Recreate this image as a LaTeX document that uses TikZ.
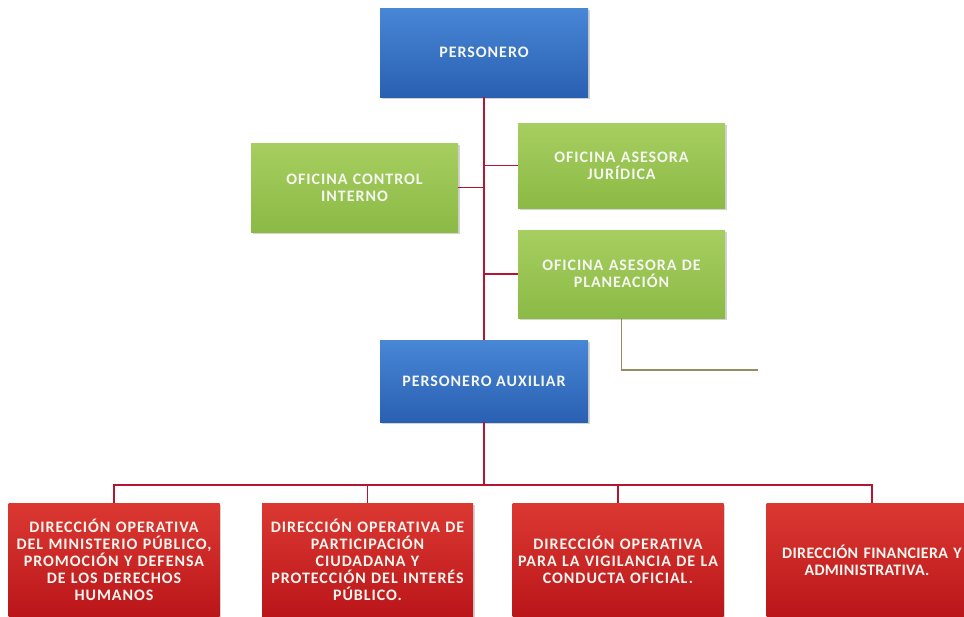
\documentclass[tikz,border=0pt]{standalone}
\usepackage{fontspec}
\setsansfont{Carlito}
\newfontfamily\cajafont[LetterSpace=6]{Carlito}
\newfontfamily\cajafontb[LetterSpace=2]{Carlito}
\usepackage{tikz}
\usetikzlibrary{positioning,shadows,calc}
\definecolor{azultop}{RGB}{72,134,214}
\definecolor{azulbot}{RGB}{42,96,178}
\definecolor{verdetop}{RGB}{166,206,96}
\definecolor{verdebot}{RGB}{140,186,70}
\definecolor{rojotop}{RGB}{220,56,50}
\definecolor{rojobot}{RGB}{186,22,26}
\definecolor{linea}{RGB}{180,22,50}
\definecolor{oliva}{RGB}{150,140,96}
\definecolor{letra}{RGB}{246,246,240}
\tikzset{
  caja/.style = {rectangle, align=center, inner sep=2pt, text=letra,
    font=\cajafont\bfseries\fontsize{16}{17}\selectfont,
    drop shadow={opacity=0.35, shadow xshift=1.5pt, shadow yshift=-1.5pt}},
  caja_a/.style = {caja, top color=azultop, bottom color=azulbot,
    minimum width=208pt},% azul
  caja_v/.style = {caja, top color=verdetop, bottom color=verdebot,
    minimum width=207pt, text width=200pt},% verde
  caja_r/.style = {caja, top color=rojotop, bottom color=rojobot,
    minimum width=209pt, minimum height=114pt, text width=207pt},% rojo
  enlace/.style = {draw=linea, line width=1.5pt}
}
\begin{document}
\begin{tikzpicture}[x=1pt,y=-1pt]
\useasboundingbox (0,0) rectangle (964,616);

\node [caja_a, minimum height=89pt] (pers) at (484,52.5) {PERSONERO};
\node [caja_a, minimum height=82pt] (aux) at (484,381) {PERSONERO AUXILIAR};

\node [caja_v, minimum height=89pt] (oci) at (354.5,187.5) {OFICINA CONTROL\\INTERNO};
\node [caja_v, minimum height=85pt] (oaj) at (621.5,165.5) {OFICINA ASESORA\\JURÍDICA};
\node [caja_v, minimum height=88pt] (oap) at (621.5,274) {OFICINA ASESORA DE\\PLANEACIÓN};

\node [caja_r] (d1) at (114,560) {DIRECCIÓN OPERATIVA\\DEL MINISTERIO PÚBLICO,\\PROMOCIÓN Y DEFENSA\\DE LOS DERECHOS\\HUMANOS};
\node [caja_r] (d2) at (367.5,560) {DIRECCIÓN OPERATIVA DE\\PARTICIPACIÓN\\CIUDADANA Y\\PROTECCIÓN DEL INTERÉS\\PÚBLICO.};
\node [caja_r] (d3) at (618,560) {DIRECCIÓN OPERATIVA\\PARA LA VIGILANCIA DE LA\\CONDUCTA OFICIAL.};
% menos espaciado para que quepa en el borde
\node [caja_r, font=\cajafontb\bfseries\fontsize{16}{17}\selectfont] (d4) at (872,560)
  {DIRECCIÓN FINANCIERA Y\hspace*{10pt}\\ADMINISTRATIVA.\hspace*{10pt}};

\coordinate (bus) at (484,485);
\coordinate (fin) at (758,370);

\draw [enlace] (pers.south) -- (aux.north);
\draw [enlace] (oci.east) -- (oci.east -| pers.south);
\draw [enlace] (oaj.west) -- (oaj.west -| pers.south);
\draw [enlace] (oap.west) -- (oap.west -| pers.south);
\draw [enlace] (aux.south) -- (bus);
\draw [enlace] (d1.north) |- (bus) -| (d4.north);
\draw [enlace] (d2.north) -- (d2.north |- bus);
\draw [enlace] (d3.north) -- (d3.north |- bus);
\draw [draw=oliva, line width=1.3pt] (oap.south) |- (fin);
\end{tikzpicture}
\end{document}
